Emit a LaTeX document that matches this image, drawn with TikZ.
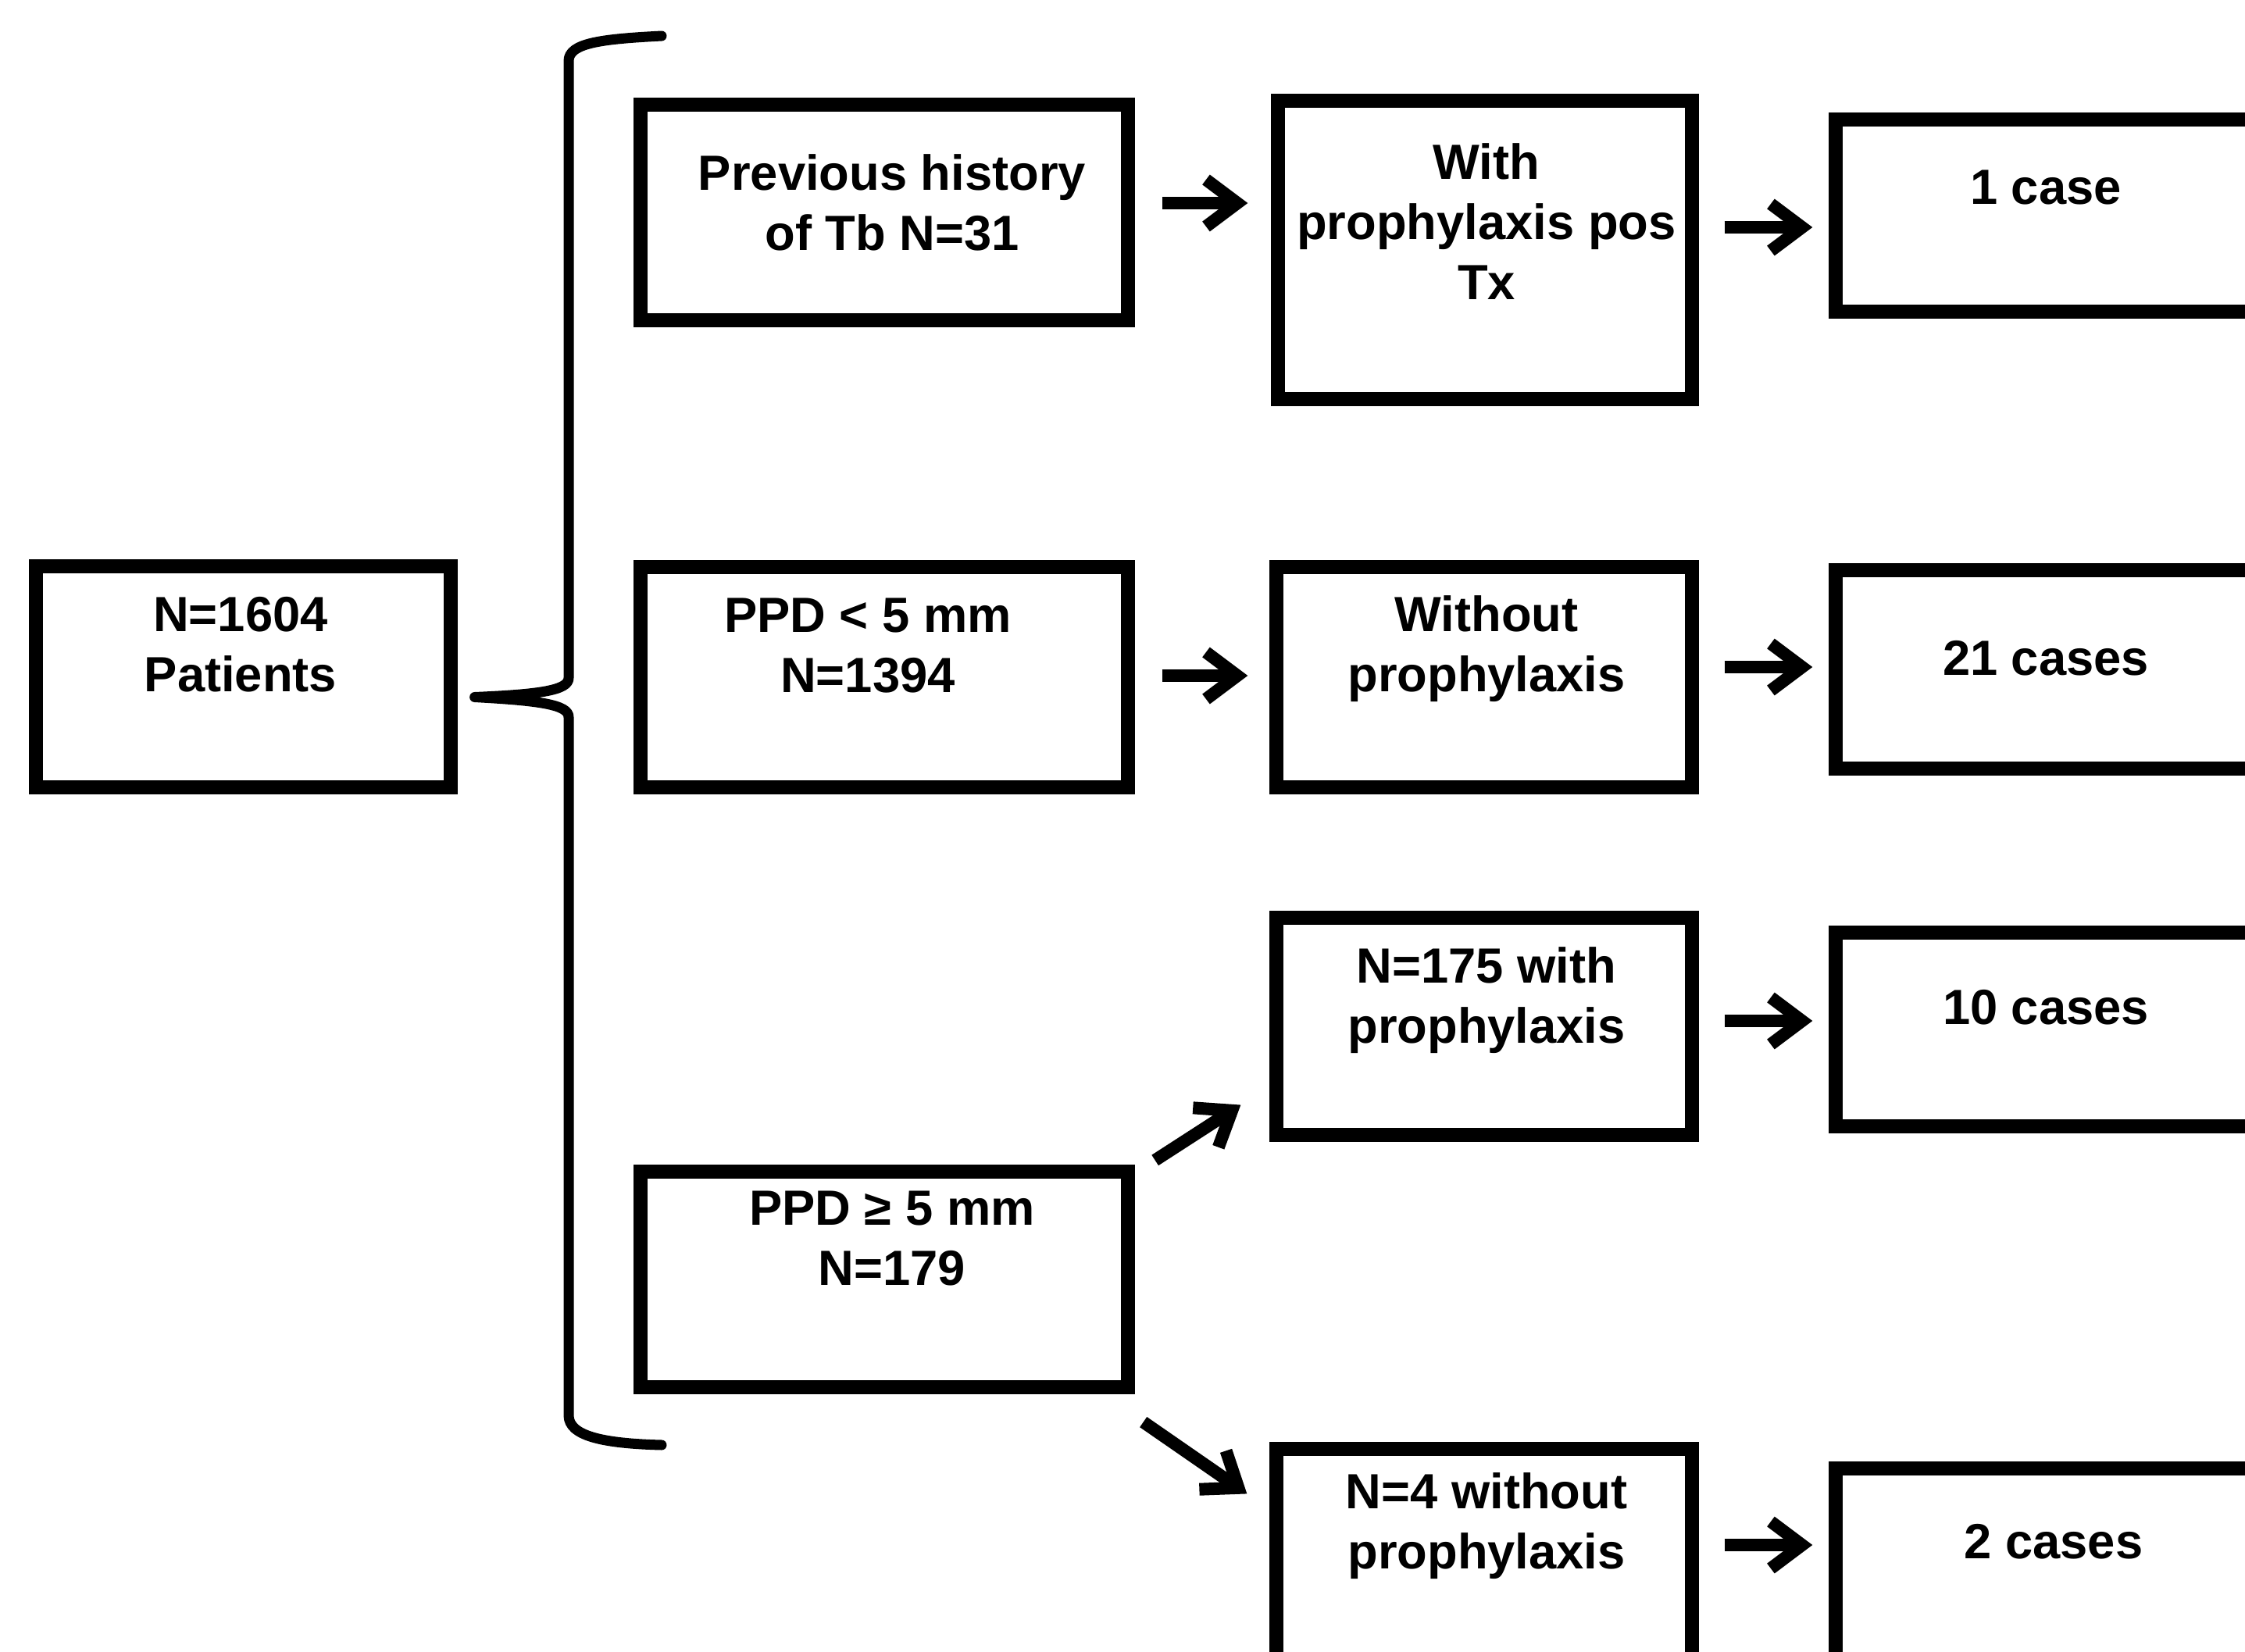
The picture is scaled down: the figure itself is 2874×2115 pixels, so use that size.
\documentclass[tikz,border=0pt]{standalone}
\usepackage{fontspec}
\setmainfont{Liberation Sans}
\usetikzlibrary{arrows.meta,calc}
\begin{document}
\begin{tikzpicture}[x=0.01cm,y=-0.01cm,
  box/.style={draw=black,line width=0.18cm,rectangle,inner sep=0pt,fill=white},
  txt/.style={inner sep=0pt,align=center,font=\fontsize{18pt}{21.9pt}\selectfont\bfseries},
  arr/.style={line width=0.16cm,-{Straight Barb[length=0.4cm,width=0.6cm]}},
  bracestyle/.style={line width=0.13cm,line cap=round,line join=round}]
\clip (0,0) rectangle (2874,2115);
\fill[white] (0,0) rectangle (2874,2115);
% boxes
\node[box,minimum width=5.30cm,minimum height=2.82cm] (A) at (311.5,866.5) {};
\node[box,minimum width=6.23cm,minimum height=2.75cm] (B1) at (1132,272) {};
\node[box,minimum width=6.23cm,minimum height=2.81cm] (B2) at (1132,867) {};
\node[box,minimum width=6.23cm,minimum height=2.75cm] (B3) at (1132,1638) {};
\node[box,minimum width=5.29cm,minimum height=3.81cm] (C1) at (1901,320) {};
\node[box,minimum width=5.31cm,minimum height=2.81cm] (C2) at (1900,867) {};
\node[box,minimum width=5.31cm,minimum height=2.77cm] (C3) at (1900,1314) {};
\node[box,minimum width=5.31cm,minimum height=3.37cm] (C4) at (1900,2024) {};
\node[box,minimum width=6.43cm,minimum height=2.45cm] (D1) at (2672,276) {};
\node[box,minimum width=6.43cm,minimum height=2.53cm] (D2) at (2672,857) {};
\node[box,minimum width=6.43cm,minimum height=2.47cm] (D3) at (2672,1318) {};
\node[box,minimum width=6.43cm,minimum height=3.12cm] (D4) at (2672,2036.5) {};
% texts
\node[txt] (tA) at (308,825) {N=1604\\Patients};
\node[txt] (tB1) at (1142,259) {Previous history\\of Tb N=31};
\node[txt] (tB2) at (1111,827) {PPD < 5 mm\\N=1394};
\node[txt] (tB3) at (1142,1586) {PPD ≥ 5 mm\\N=179};
\node[txt] (tC1) at (1903,284) {With\\prophylaxis pos\\Tx};
\node[txt] (tC2) at (1903,831) {Without\\prophylaxis};
\node[txt] (tC3) at (1903,1281) {N=175 with\\prophylaxis};
\node[txt] (tC4) at (1903,1954) {N=4 without\\prophylaxis};
\node[txt] (tD1) at (2619,240) {1 case};
\node[txt] (tD2) at (2619,843) {21 cases};
\node[txt] (tD3) at (2619,1290) {10 cases};
\node[txt] (tD4) at (2629,1974) {2 cases};
% brace
\coordinate (tip) at ($(A.east)+(22,26)$);
\draw[bracestyle] (847,46) .. controls (770,50) and (728,55) .. (728,78)
  -- (728,868) .. controls (728,884) and (690,889) .. (tip)
  .. controls (690,897) and (728,902) .. (728,918)
  -- (728,1812) .. controls (728,1838) and (770,1848) .. (847,1850);
% arrows
\draw[arr,shorten <=0.35cm,shorten >=0.3cm] (B1.east |- 0,260) -- (C1.west |- 0,260);
\draw[arr,shorten <=0.35cm,shorten >=0.28cm] (B2.east |- 0,865) -- (C2.west |- 0,865);
\draw[arr] ($(B3.north east)+(26,-6)$) -- ($(C3.south west)+(-37,-47)$);
\draw[arr] ($(B3.south east)+(11,36)$) -- ($(C4.north west)+(-29,66)$);
\draw[arr,shorten <=0.33cm,shorten >=0.21cm] (C1.east |- 0,291) -- (D1.west |- 0,291);
\draw[arr,shorten <=0.33cm,shorten >=0.21cm] (C2.east |- 0,854) -- (D2.west |- 0,854);
\draw[arr,shorten <=0.33cm,shorten >=0.21cm] (C3.east |- 0,1307) -- (D3.west |- 0,1307);
\draw[arr,shorten <=0.33cm,shorten >=0.21cm] (C4.east |- 0,1978) -- (D4.west |- 0,1978);
\end{tikzpicture}
\end{document}
